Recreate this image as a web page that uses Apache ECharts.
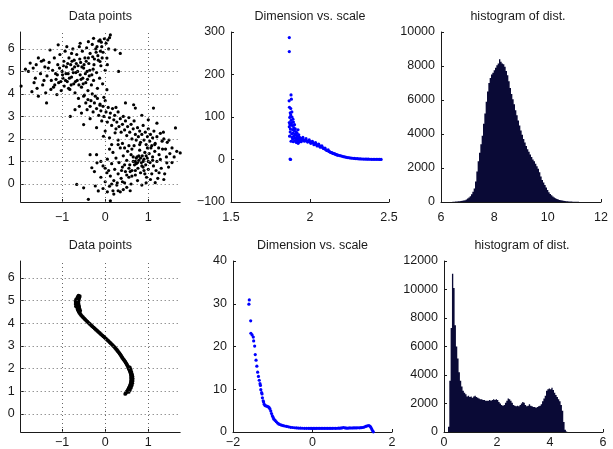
<!DOCTYPE html>
<html>
<head>
<meta charset="utf-8">
<script src="https://cdn.jsdelivr.net/npm/echarts@6/dist/echarts.min.js"></script>
<style>
html,body{margin:0;padding:0;background:#fff;}
#c{width:613px;height:449px;}
</style>
</head>
<body>
<div id="c"></div>
<script>
// ---------- titles ----------
const titleTexts = ['Data points', 'Dimension vs. scale', 'histogram of dist.'];

// ---------- tick labels ----------
const scatterXTicks = [-1, 0, 1];
const scatterYTicks = [0, 1, 2, 3, 4, 5, 6];

// ---------- top-left: noisy data points [x, y] ----------
const pointsNoisy = [
[-1.95,4.35],[-1.7,4.1],[-1.74,5.37],[-1.78,5.0],[-1.67,5.15],[-1.55,3.9],[-1.43,5.5],[-1.28,5.95],[-1.36,3.6],[-1.12,3.97],[-1.09,6.18],[-0.89,6.1],[-0.81,3.0],[-0.78,5.8],[-0.58,6.25],[-0.39,6.32],[-0.27,6.47],[-0.12,6.4],[0.04,6.77],[0.12,6.62],[-0.12,5.44],[0.04,5.59],[0.23,5.96],[0.35,5.8],[0.31,5.0],[0.04,4.19],
[-1.85,5.1],[-1.6,5.3],[-1.62,4.7],[-1.5,4.9],[-1.45,4.4],[-1.4,5.2],[-1.35,4.8],[-1.3,5.4],[-1.25,4.6],[-1.22,5.05],[-1.2,4.3],[-1.18,5.6],[-1.15,4.9],[-1.1,5.3],[-1.08,4.5],[-1.05,5.75],[-1.02,4.15],[-1.0,5.0],[-0.98,4.7],[-0.96,5.45],[-0.95,4.35],[-0.93,5.9],[-0.9,5.2],[-0.88,4.55],[-0.86,4.9],[-0.84,5.6],[-0.82,4.2],[-0.8,5.3],[-0.78,4.75],[-0.76,5.1],[-0.75,6.0],[-0.73,4.45],[-0.72,5.5],[-0.7,4.05],[-0.68,4.95],[-0.66,5.75],[-0.65,4.6],[-0.63,5.25],[-0.62,3.8],[-0.6,6.1],[-0.58,4.85],[-0.57,5.4],[-0.55,4.3],[-0.53,5.9],[-0.52,4.7],[-0.5,5.15],[-0.48,3.95],[-0.47,5.6],[-0.45,4.5],[-0.43,6.05],[-0.42,5.0],[-0.4,4.15],[-0.38,5.35],[-0.37,4.8],[-0.35,5.8],[-0.33,3.7],[-0.32,4.4],[-0.3,6.2],[-0.28,5.1],[-0.27,4.6],[-0.25,5.55],[-0.23,3.9],[-0.22,6.0],[-0.2,4.95],[-0.18,4.25],[-0.17,5.7],[-0.15,6.35],[-0.13,4.7],[-0.12,3.5],[-0.1,5.25],[-0.08,6.1],[-0.06,4.45],[-0.05,5.85],[-0.03,3.85],[-0.02,6.45],[0.0,5.05],[0.02,6.25],[0.05,5.3],[0.08,6.0],[0.1,6.5],
[-1.55,5.6],[-1.48,5.45],[-1.32,5.15],[-1.26,4.2],[-1.14,4.65],[-1.06,5.15],[-0.99,4.85],[-0.92,4.6],[-0.87,5.35],[-0.83,4.7],[-0.79,4.4],[-0.74,4.95],[-0.71,5.2],[-0.69,4.55],[-0.64,5.0],[-0.61,4.4],[-0.59,5.55],[-0.56,4.65],[-0.51,4.45],[-0.49,5.3],[-0.46,4.9],[-0.44,5.45],[-0.41,4.65],[-0.36,5.05],[-0.31,4.85],[-0.26,5.3],[-0.21,5.85],[-0.16,5.5],[-0.11,5.9],[-0.07,5.6],[-1.65,4.5],[-1.58,4.25],[-1.42,4.6],[-1.38,4.05],[-1.17,4.4],[-1.11,4.85],[-1.03,4.55],[-0.97,5.25],[-0.91,4.9],[-0.85,4.25],[-0.77,5.45],[-0.67,5.35],[-0.54,5.2],[-0.39,5.6],[-0.29,5.65],[-0.19,6.1],[-0.09,6.3],[0.06,6.4],
[-0.5,3.9],[-0.45,3.6],[-0.42,3.3],[-0.4,3.75],[-0.35,3.45],[-0.3,4.0],[-0.28,3.2],[-0.25,3.6],[-0.2,3.35],[-0.18,3.8],[-0.15,3.05],[-0.12,3.55],[-0.1,3.25],[-0.08,2.8],[-0.05,3.45],[-0.03,3.0],[0.0,3.7],[0.02,3.2],[0.05,2.75],[0.07,3.4],[0.1,2.95],[0.12,3.15],[0.15,2.6],[0.17,3.35],[0.2,2.85],[0.22,3.05],[0.25,2.45],[0.27,2.75],[0.3,3.2],[0.32,2.55],[0.35,2.9],[0.37,2.3],[0.4,2.65],[0.42,3.0],[0.45,2.4],[0.47,2.8],[0.5,2.15],[0.52,2.55],[0.55,2.95],[0.57,2.3],[0.6,2.65],[0.62,2.0],[0.65,2.45],[0.67,2.8],[0.7,2.2],[0.72,1.95],[0.75,2.5],[0.77,2.1],[0.8,2.35],[0.82,1.85],[0.85,2.2],[0.88,2.6],[0.9,1.95],[0.93,2.3],[0.95,1.75],[0.98,2.1],[1.0,2.45],[1.03,1.9],[1.05,2.2],[1.08,1.7],[1.1,2.05],[1.13,2.35],[1.16,1.8],[1.2,2.1],[1.24,1.6],[1.28,2.25],[1.32,1.9],[1.36,2.0],[1.4,1.55],[1.44,1.85],[1.48,1.95],[1.55,1.6],[1.63,2.49],[1.12,3.37],[0.47,3.6],[0.66,3.52],[0.7,3.37],[0.85,3.05],[1.0,2.85],[1.2,2.7],[1.35,2.3],[0.25,3.4],[-0.6,3.45],[-0.7,3.3],[-0.55,3.15],[-0.35,2.9],[-0.5,2.64],[-0.2,2.5],[0.0,2.35],[-0.04,2.12],[0.23,2.27],[0.1,2.05],[0.3,1.95],[0.15,1.75],[0.4,1.8],[0.55,1.7],
[1.74,1.38],[1.28,1.09],[1.43,0.94],[1.36,0.2],[1.16,0.06],[-0.66,-0.02],[-0.5,-0.17],[-0.39,-0.68],[-0.23,-0.09],[-0.16,-0.31],[0.12,-0.75],[0.18,-0.3],[0.3,-0.3],[0.42,-0.25],[0.58,-0.3],[-0.35,1.3],[-0.19,0.94],[-0.31,0.72],[0.04,0.5],
[-0.1,0.3],[-0.05,0.8],[0.0,0.1],[0.05,1.1],[0.08,0.6],[0.1,-0.1],[0.12,0.35],[0.15,0.9],[0.18,1.4],[0.2,0.15],[0.22,0.65],[0.25,1.15],[0.27,-0.05],[0.3,0.45],[0.32,0.95],[0.35,1.6],[0.37,0.25],[0.4,0.75],[0.42,1.25],[0.45,0.05],[0.47,0.55],[0.5,1.05],[0.52,1.45],[0.55,0.3],[0.57,0.85],[0.6,1.3],[0.62,0.6],[0.65,1.0],[0.67,1.7],[0.7,0.4],[0.72,0.9],[0.74,1.2],[0.76,0.7],[0.78,1.05],[0.8,1.5],[0.82,0.5],[0.84,0.95],[0.86,1.25],[0.88,0.75],[0.9,1.1],[0.92,1.4],[0.94,0.85],[0.96,0.3],[0.98,1.15],[1.0,0.65],[1.02,1.35],[1.04,0.95],[1.06,1.6],[1.08,0.45],[1.1,1.2],[1.12,0.8],[1.15,1.45],[1.18,0.6],[1.2,1.0],[1.22,0.25],[1.25,1.3],[1.3,0.7],[1.33,1.55],[1.38,0.45],[1.42,1.2],[1.47,0.75],[1.5,1.35],[1.55,0.95],[1.6,1.2],[1.66,1.45],[0.6,0.0],[0.75,0.15],[0.85,-0.05],[0.95,0.05],[0.5,-0.15],[0.35,-0.35],[0.2,-0.45],[0.05,-0.35],[-0.05,-0.2],[0.28,0.05],[0.4,0.1],[0.15,0.0],[0.0,0.7],[-0.1,1.0],[-0.2,1.3],[-0.25,0.55],[0.1,1.55],[0.3,1.75],[0.45,1.6],[0.62,1.55],[0.8,1.75],[0.98,1.6],[1.15,1.75],[0.7,1.0],[0.72,1.15],[0.68,0.85],[0.75,0.95],[0.78,1.25],[0.82,1.15],[0.65,1.2],[0.85,0.8],[0.88,1.0],[0.9,0.6],[0.7,0.6],[0.58,0.55],[0.55,0.7],[0.5,0.4],[0.45,0.85],[0.38,0.6],[0.62,0.35],[0.92,0.45],[1.05,0.2],[1.25,0.5],[1.0,1.0],[0.95,1.25],[1.1,1.05]
];

// ---------- bottom-left: clean S-curve points [x, y] ----------
const pointsCurve = [
[-0.62,5.22],[-0.635,5.17],[-0.645,5.12],[-0.652,5.07],[-0.657,5.02],[-0.66,4.97],[-0.66,4.92],[-0.658,4.87],[-0.655,4.82],[-0.652,4.77],[-0.648,4.72],[-0.643,4.67],[-0.636,4.62],[-0.627,4.57],[-0.615,4.52],[-0.6,4.47],[-0.582,4.42],[-0.562,4.37],[-0.54,4.32],[-0.515,4.27],[-0.49,4.22],[-0.465,4.17],[-0.44,4.12],[-0.413,4.07],[-0.386,4.02],[-0.358,3.97],[-0.33,3.92],[-0.302,3.87],[-0.273,3.82],[-0.244,3.77],[-0.215,3.72],[-0.186,3.67],[-0.157,3.62],[-0.128,3.57],[-0.099,3.52],[-0.07,3.47],[-0.041,3.42],[-0.012,3.37],[0.017,3.32],[0.045,3.27],[0.073,3.22],[0.1,3.17],[0.127,3.12],[0.153,3.07],[0.179,3.02],[0.204,2.97],[0.228,2.92],[0.251,2.87],[0.273,2.82],[0.294,2.77],[0.314,2.72],[0.333,2.67],[0.351,2.62],[0.368,2.57],[0.384,2.52],[0.4,2.47],[0.42,2.42],[0.44,2.37],[0.458,2.32],[0.475,2.27],[0.49,2.22],[0.505,2.17],[0.519,2.12],[0.532,2.07],[0.545,2.02],[0.556,1.97],[0.567,1.92],[0.577,1.87],[0.586,1.82],[0.593,1.77],[0.599,1.72],[0.603,1.67],[0.606,1.62],[0.607,1.57],[0.607,1.52],[0.605,1.47],[0.601,1.42],[0.596,1.37],[0.589,1.32],[0.58,1.27],[0.57,1.22],[0.558,1.17],[0.545,1.12],[0.53,1.07],[0.514,1.02],[0.497,0.97],[0.48,0.92],[0.465,0.88],
[-0.59,5.2],[-0.6,5.15],[-0.61,5.1],[-0.615,5.05],[-0.62,5.0],[-0.622,4.95],[-0.622,4.9],[-0.62,4.85],[-0.616,4.8],[-0.612,4.75],[-0.607,4.7],[-0.6,4.65],[-0.592,4.6],[-0.58,4.55],
[-0.675,5.05],[-0.685,4.95],[-0.685,4.85],[-0.678,4.75],
[0.572,2.05],[0.59,1.95],[0.607,1.85],[0.622,1.75],[0.633,1.65],[0.638,1.55],[0.636,1.45],[0.628,1.35],[0.615,1.25],[0.597,1.15],[0.573,1.05],[0.545,0.97]
];

// ---------- top-middle: dimension vs scale [scale, dimension] ----------
const dimScaleTop = [
[1.869,287],[1.869,254],[1.88,152],[1.882,142],[1.868,138],[1.87,123],[1.878,120],[1.872,99],[1.869,87],[1.869,77],[1.871,55],[1.88,43],[1.874,1],[1.877,0],
[1.875,110],[1.878,105],[1.88,92],[1.882,85],[1.885,112],[1.886,100],[1.888,80],[1.89,70],[1.892,95],[1.893,62],[1.895,88],[1.897,75],[1.898,55],[1.9,68],[1.902,82],[1.903,50],[1.905,60],[1.907,72],[1.908,45],[1.91,58],[1.912,65],[1.914,40],[1.915,52],[1.917,48],[1.918,62],[1.92,44],[1.922,55],[1.924,70],[1.925,38],[1.927,50],[1.929,58],[1.93,45],[1.932,42],[1.934,52],[1.936,48],[1.938,44],[1.94,50],[1.942,46],[1.944,42],[1.946,49],[1.948,45],[1.875,65],[1.876,72],[1.873,82],[1.884,60],[1.887,52],[1.89,48],[1.895,42],
[1.95,48],[1.96,46.5],[1.97,45],[1.98,44],[1.99,43],[2.0,42],[2.01,40.5],[2.02,39],[2.03,37],[2.04,35.5],[2.05,34],[2.06,32],[2.07,30],[2.08,28],[2.09,25.5],[2.1,23],[2.11,21],[2.12,19],[2.13,17],[2.14,15.5],[2.15,14],[2.16,12.5],[2.17,11],[2.18,10],[2.19,9],[2.2,8],[2.21,7],[2.22,6],[2.23,5.2],[2.24,4.5],[2.25,4],[2.26,3.4],[2.27,2.9],[2.28,2.5],[2.29,2.2],[2.3,1.9],[2.31,1.6],[2.32,1.4],[2.33,1.2],[2.34,1.05],[2.35,0.9],[2.36,0.8],[2.37,0.7],[2.38,0.6],[2.39,0.5],[2.4,0.45],[2.41,0.4],[2.42,0.35],[2.43,0.3],[2.44,0.25],[2.45,0.2],
[1.955,52],[1.965,43],[1.975,49],[1.985,41],[1.995,46],[2.005,38],[2.015,43],[2.025,35],[2.035,40],[2.045,32],[2.055,36],[2.065,29],[2.075,32],[2.085,26],[2.095,27],[2.105,21.5],[2.115,22.5],[2.125,18],[2.135,16.5],[2.145,14.5],[2.155,13.5],[2.165,11.5],[2.175,10.5]
];

// ---------- bottom-middle: dimension vs scale [scale, dimension] ----------
const dimScaleBottom = [
[-1.59,30.9],[-1.6,29.9],[-1.555,26.0],[-1.55,23.1],[-1.52,22.7],[-1.49,22.2],[-1.48,21.3],[-1.455,20.1],[-1.44,18.1],[-1.42,16.8],[-1.4,15.4],[-1.38,14.0],[-1.36,13.0],[-1.34,12.1],[-1.32,11.3],[-1.31,10.9],[-1.3,9.9],[-1.28,9.2],[-1.27,8.9],[-1.26,8.0],[-1.24,7.3],[-1.23,7.0],[-1.215,6.5],[-1.195,6.2],[-1.17,6.1],[-1.14,6.0],[-1.11,5.9],[-1.09,5.7],[-1.07,5.4],[-1.05,4.9],[-1.03,4.3],[-1.01,3.8],[-0.99,3.4],[-0.97,3.0],[-0.94,2.7],[-0.91,2.4],[-0.88,2.1],[-0.85,1.9],[-0.82,1.75],[-0.78,1.6],[-0.74,1.5],[-0.7,1.4],[-0.65,1.3],[-0.6,1.2],[-0.55,1.1],[-0.5,1.05],[-0.45,1.0],[-0.4,0.95],[-0.35,0.92],[-0.3,0.9],[-0.25,0.88],[-0.2,0.87],[-0.15,0.86],[-0.1,0.85],
[-0.06,0.85],[-0.02,0.84],[0.02,0.85],[0.06,0.84],[0.1,0.85],[0.14,0.86],[0.18,0.85],[0.22,0.85],[0.26,0.86],[0.3,0.85],[0.34,0.86],[0.38,0.86],[0.42,0.87],[0.46,0.86],[0.5,0.87],[0.54,0.88],[0.58,0.87],[0.62,0.88],[0.66,0.9],[0.7,0.89],[0.74,0.95],[0.78,1.05],[0.82,0.95],[0.86,0.9],[0.9,0.92],[0.94,0.95],[0.98,0.93],[1.02,0.95],[1.06,0.98],[1.1,0.96],[1.14,1.0],[1.18,0.98],[1.22,1.02],[1.26,1.05],[1.3,1.15],[1.34,1.3],[1.38,1.45],[1.42,1.5],[1.45,1.35],[1.47,1.05],[1.49,0.7],[1.51,0.35],[1.53,0.05]
];

// ---------- top-right histogram [bin centre, count] ----------
const histTop = [
[6.45,10],[6.5,20],[6.55,25],[6.6,30],[6.65,40],[6.7,50],[6.75,60],[6.8,70],[6.85,90],[6.9,110],[6.95,150],[7.0,200],[7.05,260],[7.1,340],[7.15,450],[7.2,600],[7.25,800],[7.3,1200],[7.35,1800],[7.4,2400],[7.45,2900],[7.5,3400],[7.55,3900],[7.6,4600],[7.65,5200],[7.7,5900],[7.75,6500],[7.8,7000],[7.85,7300],[7.9,7500],[7.95,7600],[8.0,7750],[8.05,7900],[8.1,8050],[8.15,8150],[8.2,8400],[8.25,8250],[8.3,8150],[8.35,8100],[8.4,7950],[8.45,7700],[8.5,7450],[8.55,7100],[8.6,6700],[8.65,6350],[8.7,6050],[8.75,5750],[8.8,5400],[8.85,5100],[8.9,4800],[8.95,4500],[9.0,4200],[9.05,3950],[9.1,3700],[9.15,3500],[9.2,3300],[9.25,3100],[9.3,2950],[9.35,2800],[9.4,2650],[9.45,2500],[9.5,2400],[9.55,2250],[9.6,2100],[9.65,1950],[9.7,1750],[9.75,1500],[9.8,1300],[9.85,1150],[9.9,1000],[9.95,850],[10.0,700],[10.05,580],[10.1,470],[10.15,400],[10.2,330],[10.25,270],[10.3,220],[10.35,180],[10.4,150],[10.45,120],[10.5,100],[10.55,85],[10.6,70],[10.65,60],[10.7,50],[10.75,40],[10.8,35],[10.85,30],[10.9,25],[10.95,20],[11.0,15],[11.05,12],[11.1,10],[11.15,8],[11.2,6],[11.25,5],[11.3,4],[11.35,3]
];

// ---------- bottom-right histogram [bin centre, count] ----------
const histBottom = [
[0.175,370],[0.225,3600],[0.275,7300],[0.325,11100],[0.375,10100],[0.425,7500],[0.475,6000],[0.525,5150],[0.575,4200],[0.625,3600],[0.675,3200],[0.725,2900],[0.775,2750],[0.825,2650],[0.875,2500],[0.925,2550],[0.975,2450],[1.025,2500],[1.075,2400],[1.125,2500],[1.175,2550],[1.225,2450],[1.275,2400],[1.325,2350],[1.375,2300],[1.425,2300],[1.475,2250],[1.525,2250],[1.575,2200],[1.625,2200],[1.675,2200],[1.725,2250],[1.775,2200],[1.825,2250],[1.875,2300],[1.925,2250],[1.975,2300],[2.025,2250],[2.075,2100],[2.125,2000],[2.175,1900],[2.225,1850],[2.275,1900],[2.325,2050],[2.375,2200],[2.425,2350],[2.475,2300],[2.525,2200],[2.575,2050],[2.625,1900],[2.675,1850],[2.725,1800],[2.775,1850],[2.825,1800],[2.875,1900],[2.925,2000],[2.975,2100],[3.025,2050],[3.075,1900],[3.125,1800],[3.175,1850],[3.225,1950],[3.275,1850],[3.325,1800],[3.375,1750],[3.425,1750],[3.475,1700],[3.525,1750],[3.575,1800],[3.625,1850],[3.675,1950],[3.725,2150],[3.775,2350],[3.825,2550],[3.875,2900],[3.925,3000],[3.975,3050],[4.025,3000],[4.075,3100],[4.125,2950],[4.175,2750],[4.225,2600],[4.275,2450],[4.325,2300],[4.375,2150],[4.425,1900],[4.475,1500],[4.525,700],[4.575,150],[4.625,40]
];

// ---------- rendering ----------
const FONT = "'Liberation Sans', Arial, Helvetica, sans-serif";
const FS = 12.5;
const INK = '#1a1a1a';
const minusFmt = v => String(v).replace('-', '\u2212');

const grids = [
  {left: 20.7, top: 32, width: 159.5, height: 170},
  {left: 231, top: 32, width: 158, height: 170},
  {left: 441, top: 32, width: 160, height: 170},
  {left: 20.7, top: 261, width: 159.5, height: 171},
  {left: 233, top: 261, width: 159, height: 171},
  {left: 444, top: 261, width: 159, height: 171}
];

function axis(gridIndex, min, max, extra, labelMargin) {
  const base = {
    type: 'value', gridIndex: gridIndex, min: min, max: max,
    axisLine: {show: true, onZero: false, lineStyle: {color: INK, width: 1}},
    axisTick: {show: true, inside: true, length: 3, lineStyle: {color: INK}},
    axisLabel: {color: INK, fontSize: FS, fontFamily: FONT, margin: labelMargin, formatter: minusFmt, hideOverlap: false},
    splitLine: {show: false}
  };
  if (extra) {
    for (const k in extra) {
      if (typeof extra[k] === 'object' && !Array.isArray(extra[k]) && base[k]) base[k] = Object.assign({}, base[k], extra[k]);
      else base[k] = extra[k];
    }
  }
  return base;
}

function scatterAxes(gi, xMargin) {
  return {
    x: axis(gi, -1.96, 1.74, {
      axisLabel: {customValues: scatterXTicks},
      axisTick: {customValues: scatterXTicks}
    }, xMargin),
    y: axis(gi, -0.8, 6.75, {
      axisLabel: {customValues: scatterYTicks},
      axisTick: {customValues: scatterYTicks}
    }, 6)
  };
}

const s1 = scatterAxes(0, 9);
const s4 = scatterAxes(3, 4);

const xAxes = [
  s1.x,
  axis(1, 1.5, 2.5, {interval: 0.5}, 9),
  axis(2, 6, 12, {interval: 2}, 9),
  s4.x,
  axis(4, -2, 2, {interval: 2}, 4),
  axis(5, 0, 6, {interval: 2}, 4)
];
const yAxes = [
  s1.y,
  axis(1, -100, 300, {interval: 100}, 6),
  axis(2, 0, 10000, {interval: 2000}, 6),
  s4.y,
  axis(4, 0, 40, {interval: 10}, 6),
  axis(5, 0, 12000, {interval: 2000}, 6)
];

const titleCenters = [[100.3, 10], [310, 10], [518, 10], [100.3, 239.5], [312.5, 239.5], [522, 239.5]];
const titleIdx = [0, 1, 2, 0, 1, 2];
const titles = titleCenters.map((c, i) => ({
  text: titleTexts[titleIdx[i]], left: c[0], top: c[1], textAlign: 'center', padding: 0,
  textStyle: {fontSize: FS, fontWeight: 'normal', fontFamily: FONT, color: INK}
}));

// dotted MATLAB-style grid, placed at the tick values through the axes
const gridMarkLine = {
  silent: true, symbol: 'none', animation: false,
  label: {show: false},
  lineStyle: {color: '#666', type: [1, 3], width: 1},
  data: scatterXTicks.map(v => ({xAxis: v})).concat(scatterYTicks.map(v => ({yAxis: v})))
};

const histStyle = {color: '#0a0a36'};

const option = {
  animation: false,
  backgroundColor: '#fff',
  title: titles,
  grid: grids,
  xAxis: xAxes,
  yAxis: yAxes,
  series: [
    {type: 'scatter', xAxisIndex: 0, yAxisIndex: 0, data: pointsNoisy, symbol: 'circle', symbolSize: 3.2, itemStyle: {color: '#000', opacity: 1}, silent: true, markLine: gridMarkLine, z: 3},
    {type: 'scatter', xAxisIndex: 1, yAxisIndex: 1, data: dimScaleTop, symbol: 'circle', symbolSize: 3.2, itemStyle: {color: '#0000ff', opacity: 1}, silent: true},
    {type: 'bar', xAxisIndex: 2, yAxisIndex: 2, data: histTop, barWidth: '100%', large: true, largeThreshold: 10, itemStyle: histStyle, silent: true},
    {type: 'scatter', xAxisIndex: 3, yAxisIndex: 3, data: pointsCurve, symbol: 'circle', symbolSize: 3.8, itemStyle: {color: '#000', opacity: 1}, silent: true, markLine: gridMarkLine, z: 3},
    {type: 'scatter', xAxisIndex: 4, yAxisIndex: 4, data: dimScaleBottom, symbol: 'circle', symbolSize: 3.2, itemStyle: {color: '#0000ff', opacity: 1}, silent: true},
    {type: 'bar', xAxisIndex: 5, yAxisIndex: 5, data: histBottom, barWidth: '100%', large: true, largeThreshold: 10, itemStyle: histStyle, silent: true}
  ]
};

const chart = echarts.init(document.getElementById('c'), null, {renderer: 'canvas'});
chart.setOption(option);
</script>
</body>
</html>
